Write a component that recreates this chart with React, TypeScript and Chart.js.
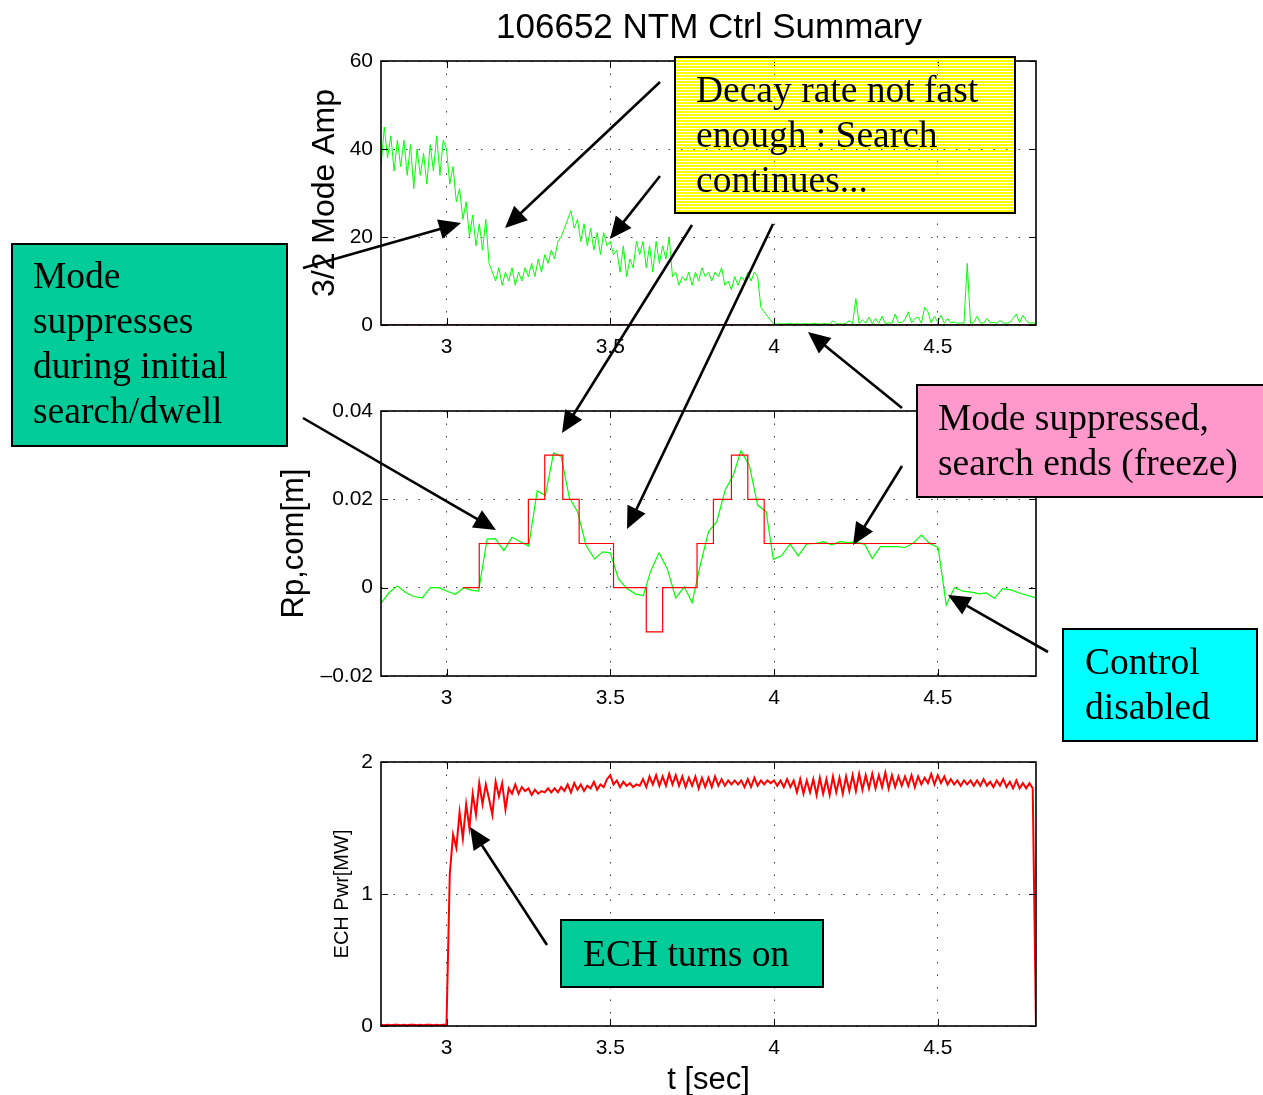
import React, { useEffect, useRef } from 'react';
import { Chart, registerables } from 'chart.js';

Chart.register(...registerables);
Chart.defaults.font.family = '"Liberation Sans", Arial, Helvetica, sans-serif';

// ---------- data ----------
const T_START = 2.8;
const T_STEP = 0.01;
const X_MIN = 2.8;
const X_MAX = 4.8;
const X_TICKS = [3, 3.5, 4, 4.5];

const AMP_TICKS = [0, 20, 40, 60];
const RP_TICKS = [-0.02, 0, 0.02, 0.04];
const RP_TICK_LABELS = ['\u20130.02', '0', '0.02', '0.04'];
const ECH_TICKS = [0, 1, 2];

// 3/2 mode amplitude, sampled every 10 ms from 2.80 s
const MODE_AMP = [
  36, 45, 38, 43, 35, 42, 36, 42, 34, 41,
  31, 40, 34, 39, 32, 41, 35, 43, 34, 42,
  40, 32, 36, 28, 31, 24, 28, 20, 25, 18,
  23, 17, 24, 14, 12, 10, 13, 9, 12, 10,
  13, 9, 12, 10, 13, 11, 14, 11, 15, 12,
  16, 14, 17, 15, 19, 20, 22, 24, 26, 22,
  24, 19, 23, 18, 22, 17, 21, 16, 21, 18,
  19, 16, 17, 12, 18, 11, 15, 13, 19, 16,
  19, 13, 18, 12, 19, 14, 18, 15, 20, 11,
  12, 9, 11, 10, 12, 9, 12, 10, 13, 11,
  12, 10, 12, 11, 13, 9, 10, 8, 11, 9,
  11, 10, 12, 10, 12, 11, 4, 3, 2, 1,
  0.3, 0.2, 0.3, 0.2, 0.3, 0.4, 0.2, 0.3, 0.2, 0.3,
  0.3, 0.2, 0.4, 0.3, 0.2, 0.3, 0.3, 0.2, 1.0, 0.3,
  0.3, 0.2, 0.4, 1.0, 0.3, 6.0, 0.3, 1.2, 0.4, 1.8,
  0.3, 1.5, 0.4, 2.0, 0.3, 0.5, 0.4, 2.5, 0.5, 0.6,
  1.2, 3.0, 0.5, 1.5, 1.8, 0.4, 4.0, 3.0, 0.5, 2.0,
  0.6, 2.2, 0.4, 1.5, 0.5, 0.7, 0.4, 0.5, 0.4, 14.0,
  0.4, 0.6, 2.0, 0.5, 0.4, 1.5, 0.5, 0.6, 0.4, 1.0,
  0.5, 0.4, 0.6, 1.5, 2.5, 0.5, 2.2, 1.0, 0.4, 0.5,
  0.4,
];
const MODE_REF_TIME = [2.8, 4.8];
const MODE_REF = [0, 0];

// Rp,com measured (green)
const RP_TIME = [
  2.800, 2.825, 2.850, 2.875, 2.900, 2.926, 2.951, 2.976, 3.002, 3.027,
  3.053, 3.078, 3.098, 3.124, 3.149, 3.175, 3.200, 3.226, 3.251, 3.277,
  3.302, 3.327, 3.350, 3.375, 3.400, 3.426, 3.452, 3.477, 3.500, 3.525,
  3.551, 3.576, 3.601, 3.624, 3.649, 3.674, 3.700, 3.726, 3.750, 3.774,
  3.800, 3.825, 3.851, 3.876, 3.899, 3.925, 3.950, 3.976, 3.998, 4.023,
  4.049, 4.074, 4.100, 4.125, 4.151, 4.176, 4.201, 4.227, 4.252, 4.277,
  4.300, 4.325, 4.351, 4.376, 4.401, 4.427, 4.450, 4.475, 4.501, 4.526,
  4.551, 4.577, 4.602, 4.627, 4.648, 4.673, 4.698, 4.724, 4.749, 4.800,
];
const RP_MEAS = [
  -0.0035, -0.0011, 0.0004, -0.0011, -0.002, -0.0023, 0.0, 0.0, -0.0008, -0.0015,
  0.0, -0.0006, -0.0008, 0.011, 0.0111, 0.0084, 0.0114, 0.0104, 0.0094, 0.0219,
  0.0209, 0.0305, 0.0297, 0.0204, 0.0172, 0.0096, 0.0065, 0.0081, 0.0079, 0.002,
  -0.0002, -0.0014, -0.0018, 0.0039, 0.0079, 0.0043, -0.0023, 0.0002, -0.0034, 0.0048,
  0.0127, 0.0149, 0.0221, 0.0255, 0.031, 0.0276, 0.0187, 0.0172, 0.0064, 0.0072,
  0.0099, 0.0072, 0.0099, 0.01, 0.0104, 0.0097, 0.0104, 0.0102, 0.0103, 0.0098,
  0.0066, 0.0093, 0.0093, 0.0093, 0.0091, 0.0102, 0.0119, 0.01, 0.0091, -0.0039,
  0.0, -0.0008, -0.001, -0.0014, -0.0012, -0.0024, -0.0002, -0.0005, -0.0012, -0.0023,
];

// Rp,com command (red, stepped)
const RP_CMD_TIME = [3.05, 3.10, 3.25, 3.30, 3.355, 3.405, 3.51, 3.61, 3.66, 3.765, 3.815, 3.87, 3.92, 3.97, 4.495];
const RP_CMD = [0, 0.01, 0.02, 0.03, 0.02, 0.01, 0, -0.01, 0, 0.01, 0.02, 0.03, 0.02, 0.01, 0.01];

// ECH power [MW], sampled every 10 ms from 2.80 s
const ECH_PWR = [
  0.01, 0.005, 0.01, 0.005, 0.01, 0.01, 0.005, 0.01, 0.005, 0.01,
  0.01, 0.005, 0.01, 0.005, 0.01, 0.01, 0.005, 0.01, 0.005, 0.01,
  0.01, 1.15, 1.45, 1.35, 1.62, 1.42, 1.68, 1.5, 1.76, 1.6,
  1.84, 1.68, 1.83, 1.72, 1.6, 1.85, 1.74, 1.84, 1.64, 1.8,
  1.76, 1.83, 1.76, 1.81, 1.78, 1.8, 1.75, 1.79, 1.76, 1.78,
  1.77, 1.8, 1.77, 1.8, 1.77, 1.81, 1.78, 1.83, 1.77, 1.84,
  1.79, 1.83, 1.78, 1.82, 1.8, 1.85, 1.79, 1.83, 1.81, 1.87,
  1.9, 1.83, 1.86, 1.81, 1.85, 1.82, 1.84, 1.81, 1.83, 1.82,
  1.87, 1.81, 1.89, 1.83, 1.9, 1.82, 1.89, 1.82, 1.91, 1.83,
  1.9, 1.82, 1.89, 1.81, 1.88, 1.82, 1.89, 1.8, 1.88, 1.81,
  1.88, 1.81, 1.89, 1.82, 1.87, 1.82, 1.86, 1.83, 1.86, 1.83,
  1.86, 1.81, 1.87, 1.81, 1.88, 1.82, 1.86, 1.83, 1.86, 1.84,
  1.86, 1.82, 1.86, 1.81, 1.87, 1.81, 1.86, 1.77, 1.87, 1.76,
  1.86, 1.77, 1.87, 1.75, 1.88, 1.76, 1.87, 1.75, 1.89, 1.77,
  1.88, 1.76, 1.89, 1.78, 1.9, 1.78, 1.91, 1.79, 1.9, 1.8,
  1.91, 1.8, 1.9, 1.81, 1.92, 1.8, 1.9, 1.81, 1.89, 1.82,
  1.89, 1.82, 1.9, 1.81, 1.89, 1.83, 1.88, 1.84, 1.91, 1.83,
  1.9, 1.84, 1.89, 1.83, 1.87, 1.83, 1.86, 1.82, 1.86, 1.83,
  1.86, 1.82, 1.86, 1.82, 1.87, 1.82, 1.85, 1.81, 1.86, 1.82,
  1.87, 1.81, 1.85, 1.8, 1.86, 1.8, 1.84, 1.8, 1.84, 1.8,
  0,
];

// ---------- helpers ----------
const sampled = (vals: number[]) => vals.map((y, i) => ({ x: T_START + i * T_STEP, y }));
const paired = (xs: number[], ys: number[]) => xs.map((x, i) => ({ x, y: ys[i] }));

const SANS = '"Liberation Sans", Arial, Helvetica, sans-serif';
const SERIF = '"Liberation Serif", "Times New Roman", Times, serif';

const framePlugin = {
  id: 'matlabFrame',
  afterDatasetsDraw(chart: any) {
    const { ctx, chartArea: a, scales } = chart;
    ctx.save();
    ctx.strokeStyle = '#000';
    ctx.lineWidth = 1;
    const tl = 7;
    const line = (x1: number, y1: number, x2: number, y2: number) => {
      ctx.beginPath();
      ctx.moveTo(x1, y1);
      ctx.lineTo(x2, y2);
      ctx.stroke();
    };
    for (const t of scales.x.ticks) {
      const px = Math.round(scales.x.getPixelForValue(t.value)) + 0.5;
      line(px, a.bottom, px, a.bottom - tl);
      line(px, a.top, px, a.top + tl);
    }
    for (const t of scales.y.ticks) {
      const py = Math.round(scales.y.getPixelForValue(t.value)) + 0.5;
      line(a.left, py, a.left + tl, py);
      line(a.right, py, a.right - tl, py);
    }
    ctx.lineWidth = 1.6;
    ctx.strokeRect(a.left, a.top, a.right - a.left, a.bottom - a.top);
    ctx.restore();
  },
};

type Box = { left: number; top: number; w: number; h: number };
type Plot = { l: number; t: number; r: number; b: number };

function Panel(props: {
  box: Box;
  plot: Plot;
  datasets: any[];
  yMin: number;
  yMax: number;
  yTicks: number[];
  yLabels?: string[];
  yTitle: string;
  yTitleSize: number;
  yTitleCenter: number;
  xTitle?: string;
  xTitleCenter?: number;
}) {
  const ref = useRef<HTMLCanvasElement>(null);
  const { box, plot } = props;
  useEffect(() => {
    const yAxisW = plot.l - box.left;
    const xAxisH = box.top + box.h - plot.b;
    const yTitlePad = props.yTitleCenter - box.left - props.yTitleSize / 2;
    const xTitleSize = 31;
    const xTitlePad = props.xTitleCenter ? box.top + box.h - props.xTitleCenter - xTitleSize / 2 : 0;
    const gridCommon = { color: '#3a3a3a', lineWidth: 1, drawTicks: false };
    const chart = new Chart(ref.current as HTMLCanvasElement, {
      type: 'line',
      data: { datasets: props.datasets },
      options: {
        animation: false,
        responsive: false,
        maintainAspectRatio: false,
        devicePixelRatio: 1,
        events: [],
        layout: { padding: { top: plot.t - box.top, right: box.left + box.w - plot.r, left: 0, bottom: 0 } },
        plugins: { legend: { display: false }, tooltip: { enabled: false } },
        elements: { point: { radius: 0 }, line: { tension: 0 } },
        scales: {
          x: {
            type: 'linear',
            min: X_MIN,
            max: X_MAX,
            afterBuildTicks: (s: any) => {
              s.ticks = X_TICKS.map((v) => ({ value: v }));
            },
            afterFit: (s: any) => {
              s.height = xAxisH;
            },
            ticks: {
              color: '#000',
              font: { size: 21, family: SANS },
              padding: 10,
              maxRotation: 0,
              callback: (v: any) => String(v),
            },
            grid: gridCommon,
            border: { display: false, dash: [1.5, 11] },
            title: props.xTitle
              ? {
                  display: true,
                  text: props.xTitle,
                  color: '#000',
                  font: { size: xTitleSize, family: SANS, lineHeight: 1 },
                  padding: { top: 0, bottom: xTitlePad },
                }
              : { display: false },
          },
          y: {
            type: 'linear',
            min: props.yMin,
            max: props.yMax,
            afterBuildTicks: (s: any) => {
              s.ticks = props.yTicks.map((v) => ({ value: v }));
            },
            afterFit: (s: any) => {
              s.width = yAxisW;
            },
            ticks: {
              color: '#000',
              font: { size: 21, family: SANS },
              padding: 8,
              callback: (v: any, i: number) => (props.yLabels ? props.yLabels[i] : String(v)),
            },
            grid: gridCommon,
            border: { display: false, dash: [1.5, 11] },
            title: {
              display: true,
              text: props.yTitle,
              color: '#000',
              font: { size: props.yTitleSize, family: SANS, lineHeight: 1 },
              padding: { top: yTitlePad, bottom: 0 },
            },
          },
        },
      } as any,
      plugins: [framePlugin],
    });
    return () => chart.destroy();
  }, []);
  return (
    <canvas
      ref={ref}
      width={box.w}
      height={box.h}
      style={{ position: 'absolute', left: box.left, top: box.top, width: box.w, height: box.h }}
    />
  );
}

function Arrow({ x1, y1, x2, y2 }: { x1: number; y1: number; x2: number; y2: number }) {
  const dx = x2 - x1;
  const dy = y2 - y1;
  const L = Math.hypot(dx, dy);
  const ux = dx / L;
  const uy = dy / L;
  const hl = 22;
  const hw = 10;
  const bx = x2 - ux * hl;
  const by = y2 - uy * hl;
  const px = -uy;
  const py = ux;
  return (
    <g>
      <line x1={x1} y1={y1} x2={bx + ux * 2} y2={by + uy * 2} stroke="#000" strokeWidth={2.6} />
      <polygon
        points={`${x2},${y2} ${bx + px * hw},${by + py * hw} ${bx - px * hw},${by - py * hw}`}
        fill="#000"
      />
    </g>
  );
}

function Note({
  x, y, w, h, fill, lines, tx, ty,
}: {
  x: number; y: number; w: number; h: number; fill: string; lines: string[]; tx: number; ty: number;
}) {
  return (
    <g>
      <rect x={x} y={y} width={w} height={h} fill={fill} stroke="#000" strokeWidth={2} />
      {lines.map((s, i) => (
        <text key={i} x={tx} y={ty + i * 45} fontFamily={SERIF} fontSize={37.5} fill="#000">
          {s}
        </text>
      ))}
    </g>
  );
}

export default function App() {
  const green = '#00ff00';
  const red = '#ff0000';
  return (
    <div style={{ position: 'fixed', left: 0, top: 0, width: 1263, height: 1095, overflow: 'hidden', background: '#fff' }}>
      <Panel
        box={{ left: 260, top: 33, w: 790, h: 342 }}
        plot={{ l: 381, t: 61, r: 1036, b: 325 }}
        datasets={[
          { data: paired(MODE_REF_TIME, MODE_REF), borderColor: '#cc0000', borderWidth: 1.5 },
          { data: sampled(MODE_AMP), borderColor: green, borderWidth: 1 },
        ]}
        yMin={0}
        yMax={60}
        yTicks={AMP_TICKS}
        yTitle="3/2 Mode Amp"
        yTitleSize={32}
        yTitleCenter={325}
      />
      <Panel
        box={{ left: 260, top: 383, w: 790, h: 342 }}
        plot={{ l: 381, t: 411, r: 1036, b: 676 }}
        datasets={[
          { data: paired(RP_CMD_TIME, RP_CMD), borderColor: red, borderWidth: 1.2, stepped: 'before' },
          { data: paired(RP_TIME, RP_MEAS), borderColor: green, borderWidth: 1.2 },
        ]}
        yMin={-0.02}
        yMax={0.04}
        yTicks={RP_TICKS}
        yLabels={RP_TICK_LABELS}
        yTitle="Rp,com[m]"
        yTitleSize={31}
        yTitleCenter={294}
      />
      <Panel
        box={{ left: 260, top: 734, w: 790, h: 361 }}
        plot={{ l: 381, t: 762, r: 1036, b: 1026 }}
        datasets={[{ data: sampled(ECH_PWR), borderColor: red, borderWidth: 2 }]}
        yMin={0}
        yMax={2}
        yTicks={ECH_TICKS}
        yLabels={['0', '1', '2']}
        yTitle="ECH Pwr[MW]"
        yTitleSize={20}
        yTitleCenter={342}
        xTitle="t [sec]"
        xTitleCenter={1080}
      />
      <svg
        width={1263}
        height={1095}
        style={{ position: 'absolute', left: 0, top: 0 }}
      >
        <defs>
          <pattern id="yellowStripes" width="8" height="3" patternUnits="userSpaceOnUse">
            <rect x="0" y="0" width="8" height="2" fill="#ffff00" />
          </pattern>
        </defs>
        <text x={709} y={38} textAnchor="middle" fontFamily={SANS} fontSize={35} fill="#000">
          106652 NTM Ctrl Summary
        </text>
        <Note
          x={12} y={244} w={275} h={202} fill="#00cc99"
          lines={['Mode', 'suppresses', 'during initial', 'search/dwell']}
          tx={33} ty={288}
        />
        <Note
          x={675} y={57} w={340} h={156} fill="url(#yellowStripes)"
          lines={['Decay rate not fast', 'enough : Search', 'continues...']}
          tx={696} ty={102}
        />
        <Note
          x={917} y={385} w={350} h={112} fill="#ff99cc"
          lines={['Mode suppressed,', 'search ends (freeze)']}
          tx={938} ty={430}
        />
        <Note
          x={1063} y={629} w={194} h={112} fill="#00ffff"
          lines={['Control', 'disabled']}
          tx={1085} ty={674}
        />
        <Note
          x={561} y={920} w={262} h={67} fill="#00cc99"
          lines={['ECH turns on']}
          tx={583} ty={966}
        />
        <Arrow x1={303} y1={268} x2={461} y2={223} />
        <Arrow x1={660} y1={82} x2={505} y2={228} />
        <Arrow x1={660} y1={176} x2={610} y2={239} />
        <Arrow x1={692} y1={225} x2={562} y2={433} />
        <Arrow x1={773} y1={224} x2={627} y2={529} />
        <Arrow x1={303} y1={418} x2={496} y2={530} />
        <Arrow x1={902} y1={408} x2={808} y2={332} />
        <Arrow x1={902} y1={466} x2={853} y2={545} />
        <Arrow x1={1048} y1={652} x2={948} y2={595} />
        <Arrow x1={547} y1={945} x2={470} y2={827} />
      </svg>
    </div>
  );
}
